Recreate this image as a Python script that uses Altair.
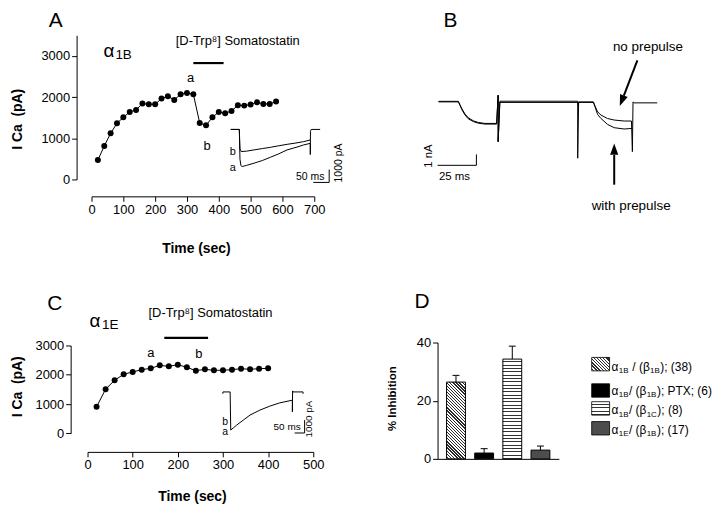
import math
import altair as alt
import pandas as pd

FONT = "Liberation Sans"

# ---------------- Panel A : alpha1B time course ----------------
A_time = [20, 40, 60, 80, 100, 120, 140, 160, 180, 200, 220, 240, 260, 280, 300,
          320, 340, 360, 380, 400, 420, 440, 460, 480, 500, 520, 540, 560, 580]
A_ica = [470, 811, 1119, 1362, 1508, 1638, 1687, 1841, 1825, 1825, 1963, 2019, 1930, 2068, 2100,
         2068, 1370, 1314, 1508, 1638, 1606, 1663, 1800, 1792, 1817, 1873, 1833, 1833, 1890]
A_drug = [320, 415]
A_drug_level = 2825
A_ab_time = [311.5, 363.4]
A_ab_ica = [2467, 821]
AB_TEXT = ["a", "b"]
INSET_TEXT = ["b", "a"]

# inset A (current traces, ms / pA)
IA_a_ms = [0, 27, 29, 32, 36, 50, 73, 100, 125, 150, 177, 205, 229, 250, 250, 250.5, 253, 281]
IA_a_pA = [0, 0, -2300, -2800, -2870, -2780, -2615, -2400, -2150, -1900, -1585, -1390, -1200, -1077, -1946, -150, 0, 0]
IA_b_ms = [0, 27, 29, 33, 50, 73, 100, 125, 150, 177, 205, 229, 250]
IA_b_pA = [0, 0, -1500, -1715, -1680, -1584, -1480, -1384, -1270, -1154, -1050, -946, -815]
IA_bar_ms = [259.4, 309.4]
IA_bar_pA = [-3100, -4100]
IA_lab_ms = [6.25, 6.25]
IA_lab_pA = [-1715, -2985]

# ---------------- Panel B : prepulse traces (ms / nA) ----------------
B_np_ms = [0.6, 13.4, 15.6, 17.7, 19.8, 23.0, 26.2, 30.5, 38.0, 39.0, 39.0, 40.1, 90.2, 90.5, 90.9,
           100.3, 103.0, 105.2, 109.4, 113.7, 120.1, 124.8, 125.4, 125.8, 126.5, 141.4]
B_np_nA = [0, 0, -0.61, -1.12, -1.45, -1.73, -1.88, -1.97, -1.97, 0.61, -3.64, -0.05, -0.05, -0.3, -0.05,
           -0.05, -0.91, -1.21, -1.52, -1.66, -1.75, -1.75, -4.55, 0.0, -0.09, -0.09]
B_wp_ms = [0.6, 13.4, 15.6, 17.7, 19.8, 23.0, 26.2, 30.5, 38.0, 39.0, 39.0, 40.1, 90.2, 90.2, 90.8,
           100.3, 103.0, 105.2, 109.4, 113.7, 120.1, 124.8, 125.4]
B_wp_nA = [0.05, 0.05, -0.7, -1.2, -1.55, -1.8, -1.95, -2.03, -2.03, 0.61, -3.64, 0.06, 0.06, -5.15, 0.0,
           0.0, -1.15, -1.52, -2.06, -2.36, -2.48, -2.43, -2.43]
B_bar_ms = [0, 25]
B_bar_nA = [-4.8, -5.8]
B_arrow_np = [128.6, 3.79, 119.9, 0.57, 118.6, 0.1]      # shaft start, shaft end, head (ms, nA)
B_arrow_wp = [113.7, -7.57, 113.7, -4.85, 113.7, -4.32]

# ---------------- Panel C : alpha1E time course ----------------
C_time = [20, 40, 60, 80, 100, 120, 140, 160, 180, 200, 220, 240, 260, 280, 300, 320, 340, 360, 380, 400]
C_ica = [906, 1506, 1812, 2016, 2095, 2174, 2219, 2322, 2288, 2344, 2254, 2140, 2186, 2152, 2152,
         2174, 2208, 2186, 2208, 2219]
C_drug = [170, 267]
C_drug_level = 3262
C_ab_time = [140, 246.4]
C_ab_ica = [2745, 2694]

IC_ms = [0, 1, 37, 40, 55, 70, 103.5, 136.5, 186.5, 236.5, 286.5, 350, 350, 351, 353, 403.5, 404]
IC_pA = [-140, 0, 0, -2946, -2760, -2562, -2177, -1792, -1408, -1100, -846, -638, -1538, 77, 0, 0, -140]
IC_bar_ms = [361.5, 411.5]
IC_bar_pA = [-2177, -3177]
IC_lab_ms = [12.5, 12.5]
IC_lab_pA = [-2308, -3123]

# ---------------- Panel D : % inhibition ----------------
D_cond = ["a1B/b1B", "a1B/b1B PTX", "a1B/b1C", "a1E/b1B"]
D_inhib = [26.4, 2.0, 34.3, 3.0]
D_sem = [2.3, 1.5, 4.45, 1.4]
D_legend = [
    ["α", "1B", " / (β", "1B", "); (38)"],
    ["α", "1B", "/ (β", "1B", "); PTX; (6)"],
    ["α", "1B", "/ (β", "1C", "); (8)"],
    ["α", "1E", "/ (β", "1B", "); (17)"],
]

# ---------------- helpers ----------------
CW = {'α': 0.578, 'β': 0.569, '/': 0.278, ' ': 0.278, '(': 0.333, ')': 0.333, ';': 0.278,
      'B': 0.667, 'C': 0.722, 'E': 0.667, 'P': 0.667, 'T': 0.611, 'X': 0.667}


def text_w(s, size):
    return sum(CW.get(ch, 0.556) for ch in s) * size


def txt(label, x, y, size=13, weight="normal", align="left", baseline="alphabetic", angle=0):
    return alt.Chart(pd.DataFrame({"label": [label]})).mark_text(
        font=FONT, fontSize=size, fontWeight=weight, align=align, baseline=baseline,
        angle=angle, color="black").encode(text="label:N", x=alt.value(x), y=alt.value(y))


def stops_list(n, p_end, dark, light, frac):
    out = []
    step = p_end / n
    for k in range(n):
        s = k * step
        m = s + step * (1 - frac)
        out += [(s, light), (m, light), (m, dark), (s + step, dark)]
    if p_end < 1:
        out += [(p_end, light), (1.0, light)]
    return [alt.GradientStop(offset=round(min(o, 1.0), 5), color=c) for o, c in out]


def diag_fill(w, h, spacing=2.2, dark="#2a2a2a", light="white", frac=0.4):
    P = (w + h) * w / (w * w + h * h)
    n = max(2, round((w + h) / math.sqrt(2) / spacing))
    return alt.LinearGradient(gradient="linear", stops=stops_list(n, P, dark, light, frac),
                              x1=0, y1=1, x2=1, y2=round(1 - h / w, 5))


def hstripe_fill(h, spacing=3.3, dark="#333333", light="white", frac=0.3):
    n = max(2, round(h / spacing))
    return alt.LinearGradient(gradient="linear", stops=stops_list(n, 1.0, dark, light, frac),
                              x1=0, y1=0, x2=0, y2=1)


def trace(ms, val, xenc, yenc, field):
    df = pd.DataFrame({"ms": ms, field: val, "i": list(range(len(ms)))})
    return alt.Chart(df).mark_line(color="black", strokeWidth=1).encode(x=xenc, y=yenc, order="i:Q")


def bars(ms, val, xenc, yenc, field, width=1):
    df = pd.DataFrame({"ms": [ms[0], ms[1]], "ms2": [ms[1], ms[1]],
                       field: [val[1], val[0]], field + "2": [val[1], val[1]]})
    return alt.Chart(df).mark_rule(color="black", strokeWidth=width).encode(
        x=xenc, x2="ms2:Q", y=yenc, y2=field + "2:Q")


def data_text(ms, val, labels, xenc, yenc, field, size=10, angle=0, align="center"):
    df = pd.DataFrame({"ms": ms, field: val, "label": labels})
    return alt.Chart(df).mark_text(font=FONT, fontSize=size, angle=angle, align=align,
                                   baseline="middle", color="black").encode(
        x=xenc, y=yenc, text="label:N")


def time_panel(times, icas, drug, level, ab_t, ab_v, x_range, y_dom, y_range, y_vals, x_dom, x_vals,
               x_offset, y_offset, xt, yt, width, height, letter, letter_xy, alpha_xy, sub, sub_xy, som_xy,
               inset_layers):
    ax_x = alt.Axis(values=x_vals, format="d", offset=x_offset, title="Time (sec)", titleX=xt[0], titleY=xt[1],
                    titleAlign="center", titleBaseline="middle", titleAngle=0, labelFlush=False,
                    labelOverlap=False, titleFontSize=14, titleFontWeight="bold")
    ax_y = alt.Axis(values=y_vals, format="d", offset=y_offset, title="I Ca\u00a0 (pA)", titleX=yt[0],
                    titleY=yt[1], titleAngle=270, titleAlign="center", titleBaseline="middle",
                    labelOverlap=False, titleFontSize=14, titleFontWeight="bold")
    yscale = alt.Scale(domain=y_dom, nice=False, zero=False)
    if y_range is not None:
        yscale = alt.Scale(domain=y_dom, range=y_range, nice=False, zero=False)
    xe = alt.X("t:Q", scale=alt.Scale(domain=x_dom, range=x_range, nice=False, zero=False), axis=ax_x)
    ye = alt.Y("v:Q", scale=yscale, axis=ax_y)
    df = pd.DataFrame({"t": times, "v": icas})
    line = alt.Chart(df).mark_line(color="black", strokeWidth=1).encode(x=xe, y=ye)
    pts = alt.Chart(df).mark_circle(size=36, color="black", opacity=1).encode(x=xe, y=ye)
    rule = alt.Chart(pd.DataFrame({"t": [drug[0]], "t2": [drug[1]], "v": [level]})).mark_rule(
        color="black", strokeWidth=2.2).encode(x=xe, x2="t2:Q", y=ye)
    ab = alt.Chart(pd.DataFrame({"t": ab_t, "v": ab_v, "label": AB_TEXT})).mark_text(
        font=FONT, fontSize=13, baseline="middle", color="black").encode(x=xe, y=ye, text="label:N")
    main = alt.layer(
        line, pts, rule, ab,
        txt(letter, letter_xy[0], letter_xy[1], size=21, align="center", baseline="middle"),
        txt("α", alpha_xy[0], alpha_xy[1], size=19),
        txt(sub, sub_xy[0], sub_xy[1], size=13.5),
        txt("[D-Trp⁸] Somatostatin", som_xy[0], som_xy[1], size=13),
    )
    inset = alt.layer(*inset_layers)
    return alt.layer(main, inset).resolve_scale(x="independent", y="independent").properties(
        width=width, height=height)


# ---------------- build panel A ----------------
xIA = alt.X("ms:Q", scale=alt.Scale(domain=[0, 320], range=[155, 257.4], nice=False, zero=False), axis=None)
yIA = alt.Y("pA:Q", scale=alt.Scale(domain=[-4000, 0], range=[146.7, 94.7], nice=False, zero=False), axis=None)
insetA = [
    trace(IA_a_ms, IA_a_pA, xIA, yIA, "pA"),
    trace(IA_b_ms, IA_b_pA, xIA, yIA, "pA"),
    bars(IA_bar_ms, IA_bar_pA, xIA, yIA, "pA"),
    data_text(IA_lab_ms, IA_lab_pA, INSET_TEXT, xIA, yIA, "pA", size=11),
    data_text([250], [-3680], ["50 ms"], xIA, yIA, "pA", size=10.5),
    data_text([338.9], [-2600], ["1000 pA"], xIA, yIA, "pA", size=10.5, angle=270),
]
panelA = time_panel(A_time, A_ica, A_drug, A_drug_level, A_ab_time, A_ab_ica,
                    x_range=[15, 239], y_dom=[0, 3500], y_range=None, y_vals=[0, 1000, 2000, 3000],
                    x_dom=[0, 700], x_vals=[0, 100, 200, 300, 400, 500, 600, 700],
                    x_offset=17, y_offset=0, xt=(120, 52), yt=(-59, 84), width=239, height=145,
                    letter="A", letter_xy=(-21, -14.5), alpha_xy=(27, 22), sub="1B", sub_xy=(39, 24.3),
                    som_xy=(99.7, 10), inset_layers=insetA)

# ---------------- build panel C ----------------
xIC = alt.X("ms:Q", scale=alt.Scale(domain=[0, 400], range=[147, 227], nice=False, zero=False), axis=None)
yIC = alt.Y("pA:Q", scale=alt.Scale(domain=[-4000, 0], range=[101.7, 49.7], nice=False, zero=False), axis=None)
insetC = [
    trace(IC_ms, IC_pA, xIC, yIC, "pA"),
    bars(IC_bar_ms, IC_bar_pA, xIC, yIC, "pA"),
    data_text(IC_lab_ms, IC_lab_pA, INSET_TEXT, xIC, yIC, "pA", size=10.5),
    data_text([323.5], [-2692], ["50 ms"], xIC, yIC, "pA", size=10),
    data_text([435], [-2100], ["1000 pA"], xIC, yIC, "pA", size=10, angle=270),
]
panelC = time_panel(C_time, C_ica, C_drug, C_drug_level, C_ab_time, C_ab_ica,
                    x_range=[11, 238], y_dom=[0, 3000], y_range=[91.3, 3], y_vals=[0, 1000, 2000, 3000],
                    x_dom=[0, 500], x_vals=[0, 100, 200, 300, 400, 500],
                    x_offset=18, y_offset=6, xt=(116, 45), yt=(-53, 44), width=239, height=92,
                    letter="C", letter_xy=(-22, -38.5), alpha_xy=(13, -15.3), sub="1E", sub_xy=(25.5, -13.5),
                    som_xy=(72.3, -26), inset_layers=insetC)

# ---------------- build panel B ----------------
xB = alt.X("ms:Q", scale=alt.Scale(domain=[0, 150], range=[0, 234.375], nice=False, zero=False), axis=None)
yB = alt.Y("nA:Q", scale=alt.Scale(domain=[-5, 5], range=[122, 12], nice=False, zero=False), axis=None)


def arrow(a, angle):
    shaft = alt.Chart(pd.DataFrame({"ms": [a[0]], "ms2": [a[2]], "nA": [a[1]], "nA2": [a[3]]})).mark_rule(
        color="black", strokeWidth=2).encode(x=xB, x2="ms2:Q", y=yB, y2="nA2:Q")
    head = alt.Chart(pd.DataFrame({"ms": [a[4]], "nA": [a[5]]})).mark_point(
        shape="M0,-1L0.72,1L-0.72,1Z", filled=True, size=130, color="black", opacity=1,
        angle=angle).encode(x=xB, y=yB)
    return [shaft, head]


panelB = alt.layer(
    trace(B_np_ms, B_np_nA, xB, yB, "nA"),
    trace(B_wp_ms, B_wp_nA, xB, yB, "nA"),
    bars(B_bar_ms, B_bar_nA, xB, yB, "nA"),
    *arrow(B_arrow_np, 201.2),
    *arrow(B_arrow_wp, 0),
    data_text([135.4], [5.0], ["no prepulse"], xB, yB, "nA", size=13.5),
    data_text([124.6], [-9.48], ["with prepulse"], xB, yB, "nA", size=13.5),
    data_text([-5.8], [-4.95], ["1 nA"], xB, yB, "nA", size=11.5, angle=270),
    data_text([10.9], [-6.9], ["25 ms"], xB, yB, "nA", size=11.5),
    txt("B", 13, -14.5, size=21, align="center", baseline="middle"),
).properties(width=240, height=145)

# ---------------- build panel D ----------------
D_W, D_H = 122, 117
pxu = D_H / 40.0
step = D_W / (4 - 0.33 + 2 * 0.32)
bw = step * (1 - 0.33)
fills = [diag_fill(bw, D_inhib[0] * pxu), "black", hstripe_fill(D_inhib[2] * pxu), "#4d4d4d"]
sw_fills = [diag_fill(18, 13.5), "black", hstripe_fill(13.5), "#4d4d4d"]

dfD = pd.DataFrame({"cond": D_cond, "inh": D_inhib, "sem": D_sem})
xD = alt.X("cond:N", scale=alt.Scale(domain=D_cond, paddingInner=0.33, paddingOuter=0.32),
           axis=alt.Axis(labels=False, ticks=False, title=None))
yD = alt.Y("inh:Q", scale=alt.Scale(domain=[0, 40], nice=False),
           axis=alt.Axis(values=[0, 10, 20, 30, 40], format="d", title="% Inhibition", titleX=-45, titleY=56,
                         titleAngle=270, titleAlign="center", titleBaseline="middle",
                         titleFontSize=11.5, titleFontWeight="bold", labelOverlap=False))

d_layers = []
for c, f in zip(D_cond, fills):
    d_layers.append(alt.Chart(dfD).transform_filter(alt.datum.cond == c).mark_bar(
        fill=f, stroke="black", strokeWidth=1, opacity=1).encode(x=xD, y=yD))
d_layers.append(alt.Chart(dfD).transform_calculate(top="datum.inh + datum.sem").mark_rule(
    color="black", strokeWidth=1).encode(x=xD, y=yD, y2="top:Q"))
d_layers.append(alt.Chart(dfD).transform_calculate(top="datum.inh + datum.sem").mark_tick(
    color="black", thickness=1, size=7, opacity=1).encode(x=xD, y=alt.Y("top:Q")))

sw_top = [15, 41.5, 59.5, 79.5]
base_y = [28.5, 52.5, 72, 92]
for r, pieces in enumerate(D_legend):
    d_layers.append(alt.Chart(pd.DataFrame({"cond": [D_cond[r]]})).mark_rect(
        fill=sw_fills[r], stroke="black", strokeWidth=0.8).encode(
        x=alt.value(155), x2=alt.value(173), y=alt.value(sw_top[r]), y2=alt.value(sw_top[r] + 13.5)))
    xpos = 175.0
    for k, piece in enumerate(pieces):
        is_sub = k in (1, 3)
        size = 8 if is_sub else 12
        lead = len(piece) - len(piece.lstrip(" "))
        xpos += lead * 0.278 * size
        body = piece.strip(" ")
        d_layers.append(txt(body, round(xpos, 1), base_y[r] + (2.5 if is_sub else 0), size=size))
        xpos += text_w(body, size) + (0.5 if is_sub else 0.3)
d_layers.append(txt("D", -15.5, -41, size=21, align="center", baseline="middle"))
panelD = alt.layer(*d_layers).properties(width=D_W, height=D_H)

# ---------------- assemble ----------------
chart = alt.concat(
    panelA, panelB, panelC, panelD, columns=2,
    spacing={"row": 164, "column": 123}, bounds="flush", align="all",
).properties(
    padding={"left": 3, "top": 0, "right": 0, "bottom": 0}
).configure_view(stroke=None).configure_axis(
    grid=False, domainColor="black", domainWidth=1, tickColor="black", tickWidth=1, tickSize=5,
    labelColor="black", titleColor="black", labelFont=FONT, titleFont=FONT, labelFontSize=13,
    labelPadding=2,
).configure_text(font=FONT)

chart.save("out.html", embed_options={"renderer": "svg", "actions": False})
